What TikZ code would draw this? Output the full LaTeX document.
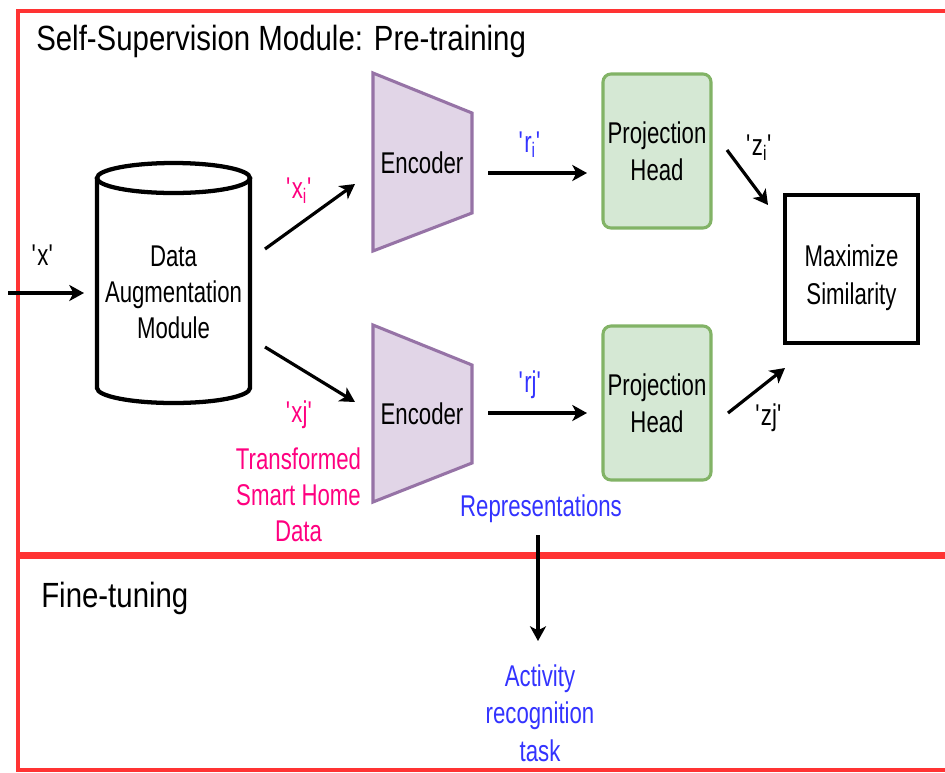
\documentclass[tikz,border=0pt]{standalone}
\usepackage{fontspec}
\setmainfont{Liberation Sans}[FakeStretch=0.74]
\newfontfamily\titlefont{Liberation Sans}[FakeStretch=0.84]
\usetikzlibrary{arrows.meta}
\definecolor{framered}{HTML}{FF3333}
\definecolor{pinktxt}{HTML}{FF0080}
\definecolor{bluetxt}{HTML}{3333FF}
\definecolor{encfill}{HTML}{E1D5E7}
\definecolor{encdraw}{HTML}{9673A6}
\definecolor{phfill}{HTML}{D5E8D4}
\definecolor{phdraw}{HTML}{82B366}
\newcommand\sq{\textquotesingle}
\begin{document}
\begin{tikzpicture}[x=0.75pt,y=-0.75pt,
  txt/.style={font=\fontsize{22.5}{27}\selectfont, inner sep=0pt, align=center},
  ttl/.style={font=\titlefont\fontsize{26.25}{30}\selectfont, inner sep=0pt},
  arr/.style={line width=2.4pt, -{Stealth[length=11pt,width=12pt,inset=3pt]}},
  frame/.style={draw=framered, line width=2.8pt},
  enc/.style={draw=encdraw, fill=encfill, line width=2.3pt, line join=miter},
  phead/.style={draw=phdraw, fill=phfill, line width=2.3pt, rounded corners=6pt, minimum width=81pt, minimum height=115.5pt, inner sep=0pt, align=center, font=\fontsize{22.5}{27.5}\selectfont},
  simbox/.style={draw=black, line width=3pt, minimum width=99.75pt, minimum height=111pt, inner sep=0pt},
  cylstyle/.style={draw=black, fill=white, line width=3.2pt}
]
\clip (0,0) rectangle (945,772);
\fill[white] (0,0) rectangle (945,772);
% frames
\draw[frame] (18,11) rectangle (960,554);
\draw[frame] (18,557) rectangle (960,770);
\node[ttl, anchor=base west] (title) at (36,50) {Self-Supervision Module: Pre-training};
\node[ttl, anchor=base west] (fine) at (41,607) {Fine-tuning};

% cylinder
\draw[cylstyle] (97,178) -- (97,388) arc[start angle=180,end angle=360,x radius=57.375pt,y radius=11.25pt] -- (250,178);
\draw[cylstyle] (173.5,178) ellipse[x radius=57.375pt, y radius=11.25pt];
\node[txt] (dam) at (173.5,292) {Data\\Augmentation\\Module};

% encoders
\draw[enc] (373,73) -- (472,113) -- (472,213) -- (373,251) -- cycle;
\draw[enc] (373,325) -- (472,365) -- (472,463) -- (373,502) -- cycle;
\node[txt] (enc1) at (422,162.5) {Encoder};
\node[txt] (enc2) at (422,413.5) {Encoder};

% projection heads
\node[phead] (ph1) at (657,151) {Projection\\Head};
\node[phead] (ph2) at (657,403) {Projection\\Head};

% maximize similarity
\node[simbox] (sim) at (851.5,269) {};
\node[txt, font=\fontsize{22.5}{28.5}\selectfont] (simt) at (851.5,278) {Maximize\\Similarity};

% labels
\node[txt, anchor=base] (lx) at (43,265) {\sq x\sq};
\node[txt, anchor=base, text=pinktxt] (lxi) at (299.5,198) {\sq x\textsubscript{i}\sq};
\node[txt, anchor=base, text=pinktxt] (lxj) at (299.5,422) {\sq xj\sq};
\node[txt, text=pinktxt] (tshd) at (298.5,495) {Transformed\\Smart Home\\Data};
\node[txt, anchor=base, text=bluetxt] (lri) at (530,152) {\sq r\textsubscript{i}\sq};
\node[txt, anchor=base, text=bluetxt] (lrj) at (530.5,392) {\sq rj\sq};
\node[txt, anchor=base] (lzi) at (759.5,155) {\sq z\textsubscript{i}\sq};
\node[txt, anchor=base] (lzj) at (769,425) {\sq zj\sq};
\node[txt, text=bluetxt] (rep) at (541,508.5) {Representations};
\node[txt, text=bluetxt, font=\fontsize{22.5}{28}\selectfont] (act) at (540,713) {Activity\\recognition\\task};

% arrow end points
\coordinate (inS) at (8,293);   \coordinate (inE) at (84,293);
\coordinate (aS) at (265,249);  \coordinate (aE) at (355,184);
\coordinate (bS) at (265,347);  \coordinate (bE) at (355,402);
\coordinate (rS) at (488,173);  \coordinate (rE) at (587,173);
\coordinate (sS) at (488,413);  \coordinate (sE) at (587,413);
\coordinate (zS) at (727,150);  \coordinate (zE) at (768,205);
\coordinate (wS) at (728,413);  \coordinate (wE) at (785,368);
\coordinate (vS) at (538,535);  \coordinate (vE) at (538,641);

\draw[arr] (inS) -- (inE);
\draw[arr] (aS) -- (aE);
\draw[arr] (bS) -- (bE);
\draw[arr] (rS) -- (rE);
\draw[arr] (sS) -- (sE);
\draw[arr] (zS) -- (zE);
\draw[arr] (wS) -- (wE);
\draw[arr] (vS) -- (vE);
\end{tikzpicture}
\end{document}
